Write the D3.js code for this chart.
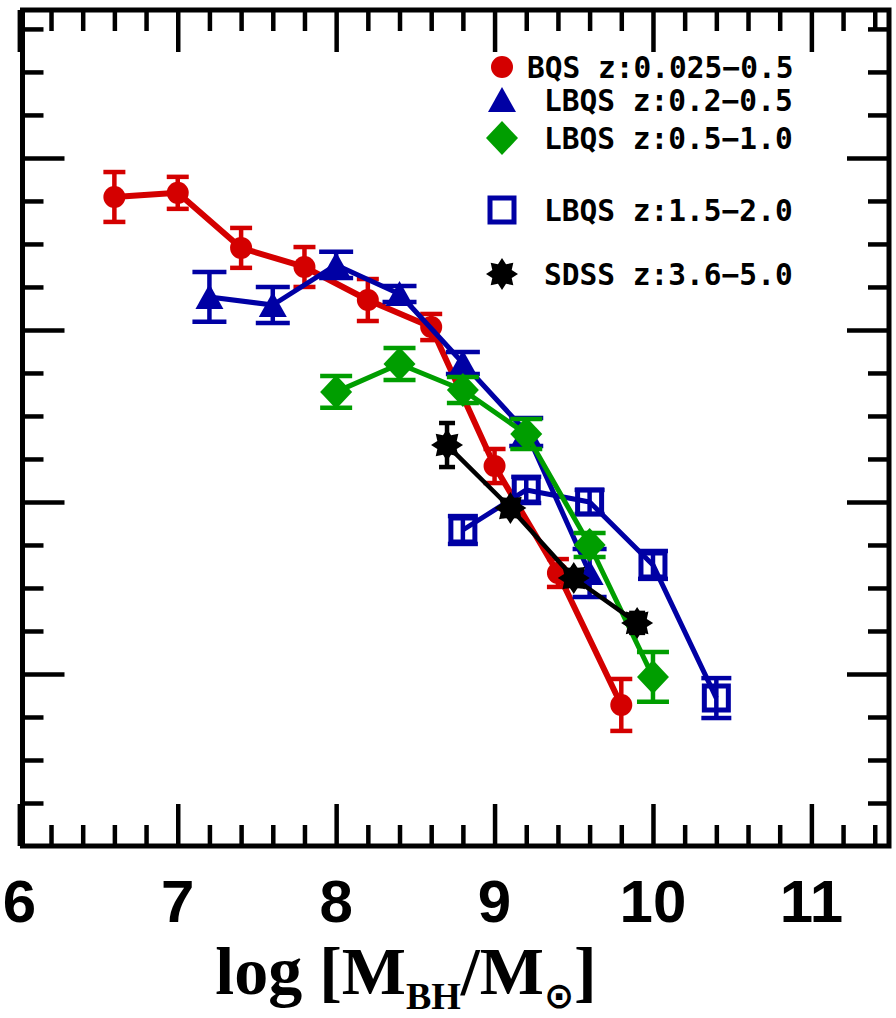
<!DOCTYPE html>
<html>
<head>
<meta charset="utf-8">
<script src="https://cdn.jsdelivr.net/npm/d3@7"></script>
<style>
  html, body { margin: 0; padding: 0; background: #fff; }
  svg { display: block; }
</style>
</head>
<body>
<script>
// ---------------- DATA ----------------
const bqsX   = [6.6, 7.0, 7.4, 7.8, 8.2, 8.6, 9.0, 9.4, 9.8];
const bqsY   = [-5.227, -5.203, -5.523, -5.634, -5.826, -5.983, -6.791, -7.413, -8.180];
const bqsErr = [0.145, 0.093, 0.116, 0.116, 0.122, 0.076, 0.099, 0.081, 0.151];

const lbqsLowX   = [7.2, 7.6, 8.0, 8.4, 8.8, 9.2, 9.6];
const lbqsLowY   = [-5.808, -5.855, -5.622, -5.791, -6.192, -6.593, -7.413];
const lbqsLowErr = [0.145, 0.105, 0.076, 0.047, 0.064, 0.081, 0.14];

const lbqsMidX   = [8.0, 8.4, 8.8, 9.2, 9.6, 10.0];
const lbqsMidY   = [-6.360, -6.198, -6.349, -6.605, -7.250, -8.017];
const lbqsMidErr = [0.093, 0.093, 0.076, 0.087, 0.07, 0.145];

const lbqsHighX   = [8.8, 9.2, 9.6, 10.0, 10.4];
const lbqsHighY   = [-7.163, -6.930, -7.0, -7.366, -8.140];
const lbqsHighErr = [0.081, 0.076, 0.07, 0.081, 0.116];

const sdssX   = [8.7, 9.1, 9.5, 9.9];
const sdssY   = [-6.669, -7.035, -7.442, -7.703];
const sdssErr = [0.128, 0.047, 0.047, 0.058];

const xTickLabels = ["6", "7", "8", "9", "10", "11"];
const legendLabels = ["BQS z:0.025\u22120.5", "LBQS z:0.2\u22120.5", "LBQS z:0.5\u22121.0", "LBQS z:1.5\u22122.0", "SDSS z:3.6\u22125.0"];

// ---------------- SETUP ----------------
const W = 896, H = 1018;
const L = 22.5, R = 889, T = 10, B = 846;
const svg = d3.select("body").append("svg").attr("width", W).attr("height", H);

const xs = d3.scaleLinear().domain([6.02, 11.49]).range([L, R]);
const ys = d3.scaleLinear().domain([-9, -4.14]).range([B, T]);

const RED = "#d40000", BLUE = "#0000a4", GREEN = "#009e00", BLACK = "#000";

// ---------------- AXES (ticks inward on all four sides) ----------------
const xMajor = d3.range(6, 11.01, 1);
const xMinor = d3.range(6.2, 11.49, 0.2).filter(v => Math.abs(v - Math.round(v)) > 0.01);
const yMajor = [-8, -7, -6, -5];
const yMinor = d3.range(-8.75, -4.14, 0.25).filter(v => Math.abs(v - Math.round(v)) > 0.01);

function styleAxis(g) {
  g.select(".domain").remove();
  g.selectAll(".tick line").attr("stroke", "#000").attr("stroke-width", 4.5);
  g.selectAll(".tick text").remove();
}
const MAJ = 42, MIN = 21;
svg.append("g").attr("transform", `translate(0,${B})`)
  .call(d3.axisBottom(xs).tickValues(xMajor).tickSize(-MAJ).tickFormat("")).call(styleAxis);
svg.append("g").attr("transform", `translate(0,${B})`)
  .call(d3.axisBottom(xs).tickValues(xMinor).tickSize(-MIN).tickFormat("")).call(styleAxis);
svg.append("g").attr("transform", `translate(0,${T})`)
  .call(d3.axisTop(xs).tickValues(xMajor).tickSize(-MAJ).tickFormat("")).call(styleAxis);
svg.append("g").attr("transform", `translate(0,${T})`)
  .call(d3.axisTop(xs).tickValues(xMinor).tickSize(-MIN).tickFormat("")).call(styleAxis);
svg.append("g").attr("transform", `translate(${L},0)`)
  .call(d3.axisLeft(ys).tickValues(yMajor).tickSize(-MAJ).tickFormat("")).call(styleAxis);
svg.append("g").attr("transform", `translate(${L},0)`)
  .call(d3.axisLeft(ys).tickValues(yMinor).tickSize(-MIN).tickFormat("")).call(styleAxis);
svg.append("g").attr("transform", `translate(${R},0)`)
  .call(d3.axisRight(ys).tickValues(yMajor).tickSize(-MAJ).tickFormat("")).call(styleAxis);
svg.append("g").attr("transform", `translate(${R},0)`)
  .call(d3.axisRight(ys).tickValues(yMinor).tickSize(-MIN).tickFormat("")).call(styleAxis);

// frame
svg.append("rect").attr("x", L).attr("y", T).attr("width", R - L).attr("height", B - T)
  .attr("fill", "none").attr("stroke", "#000").attr("stroke-width", 5);

// x tick labels
svg.append("g").selectAll("text").data(xTickLabels).join("text")
  .attr("x", d => xs(+d)).attr("y", 922)
  .attr("text-anchor", "middle")
  .attr("font-family", "'Liberation Sans', Arial, sans-serif")
  .attr("font-weight", "bold").attr("font-size", 60)
  .text(d => d);

// x axis title
const title = svg.append("text").attr("x", 406).attr("y", 994)
  .attr("text-anchor", "middle")
  .attr("font-family", "'Liberation Serif', 'Times New Roman', serif")
  .attr("font-weight", "bold").attr("font-size", 68);
title.append("tspan").text("log [M");
title.append("tspan").attr("font-size", 38).attr("dy", 15).text("BH");
title.append("tspan").attr("dy", -15).text("/M");
title.append("tspan").attr("font-size", 36).attr("dy", 14).attr("font-family", "'DejaVu Sans', sans-serif").text("\u2299");
title.append("tspan").attr("dy", -14).text("]");

// ---------------- MARKER SHAPES ----------------
const shapes = {
  circle: () => d3.symbol(d3.symbolCircle, Math.PI * 11 * 11)(),
  triangle: () => "M0,-13L14,12L-14,12Z",
  diamond: () => "M0,-17L16,0L0,17L-16,0Z",
  square: () => "M-12,-12H12V12H-12Z",
  star: () => {
    const pts = [];
    for (let i = 0; i < 16; i++) {
      const a = Math.PI * i / 8 - Math.PI / 2;
      const r = i % 2 === 0 ? 16 : 10.5;
      pts.push([r * Math.cos(a), r * Math.sin(a)]);
    }
    return "M" + pts.map(p => p.join(",")).join("L") + "Z";
  }
};

const series = [
  { x: bqsX, y: bqsY, e: bqsErr, color: RED, shape: "circle", lw: 6, cap: 22, filled: true },
  { x: lbqsLowX, y: lbqsLowY, e: lbqsLowErr, color: BLUE, shape: "triangle", lw: 5, cap: 34, filled: true },
  { x: lbqsHighX, y: lbqsHighY, e: lbqsHighErr, color: BLUE, shape: "square", lw: 5, cap: 30, filled: false },
  { x: lbqsMidX, y: lbqsMidY, e: lbqsMidErr, color: GREEN, shape: "diamond", lw: 5, cap: 32, filled: true },
  { x: sdssX, y: sdssY, e: sdssErr, color: BLACK, shape: "star", lw: 4.5, cap: 16, filled: true }
];

const line = d3.line().x(d => xs(d[0])).y(d => ys(d[1]));

series.forEach(s => {
  const pts = s.x.map((v, i) => [v, s.y[i], s.e[i]]);
  const g = svg.append("g");
  g.append("path").datum(pts).attr("d", line)
    .attr("fill", "none").attr("stroke", s.color).attr("stroke-width", s.lw)
    .attr("stroke-linejoin", "round");
  const eb = g.append("g").attr("stroke", s.color).attr("stroke-width", 4.5);
  eb.selectAll("line.v").data(pts).join("line").attr("class", "v")
    .attr("x1", d => xs(d[0])).attr("x2", d => xs(d[0]))
    .attr("y1", d => ys(d[1] - d[2])).attr("y2", d => ys(d[1] + d[2]));
  eb.selectAll("line.t").data(pts).join("line").attr("class", "t")
    .attr("x1", d => xs(d[0]) - s.cap / 2).attr("x2", d => xs(d[0]) + s.cap / 2)
    .attr("y1", d => ys(d[1] + d[2])).attr("y2", d => ys(d[1] + d[2]));
  eb.selectAll("line.b").data(pts).join("line").attr("class", "b")
    .attr("x1", d => xs(d[0]) - s.cap / 2).attr("x2", d => xs(d[0]) + s.cap / 2)
    .attr("y1", d => ys(d[1] - d[2])).attr("y2", d => ys(d[1] - d[2]));
  g.selectAll("path.m").data(pts).join("path").attr("class", "m")
    .attr("transform", d => `translate(${xs(d[0])},${ys(d[1])})`)
    .attr("d", shapes[s.shape]())
    .attr("fill", s.filled ? s.color : "none")
    .attr("stroke", s.color).attr("stroke-width", s.filled ? 0 : 5);
});

// ---------------- LEGEND ----------------
const legendShapes = ["circle", "triangle", "diamond", "square", "star"];
const legendColors = [RED, BLUE, GREEN, BLUE, BLACK];
const legendY = [67, 100, 138, 210, 274];
const legendTextX = [527, 544, 544, 544, 544];
const lg = svg.append("g");
legendLabels.forEach((lab, i) => {
  lg.append("path").attr("transform", `translate(502,${legendY[i]})`)
    .attr("d", shapes[legendShapes[i]]())
    .attr("fill", legendShapes[i] === "square" ? "none" : legendColors[i])
    .attr("stroke", legendColors[i]).attr("stroke-width", legendShapes[i] === "square" ? 5 : 0);
  lg.append("text").attr("x", legendTextX[i]).attr("y", legendY[i] + 11)
    .attr("font-family", "'DejaVu Sans Mono', monospace").attr("font-weight", "bold")
    .attr("font-size", 29.5).attr("xml:space", "preserve")
    .text(lab);
});
</script>
</body>
</html>
